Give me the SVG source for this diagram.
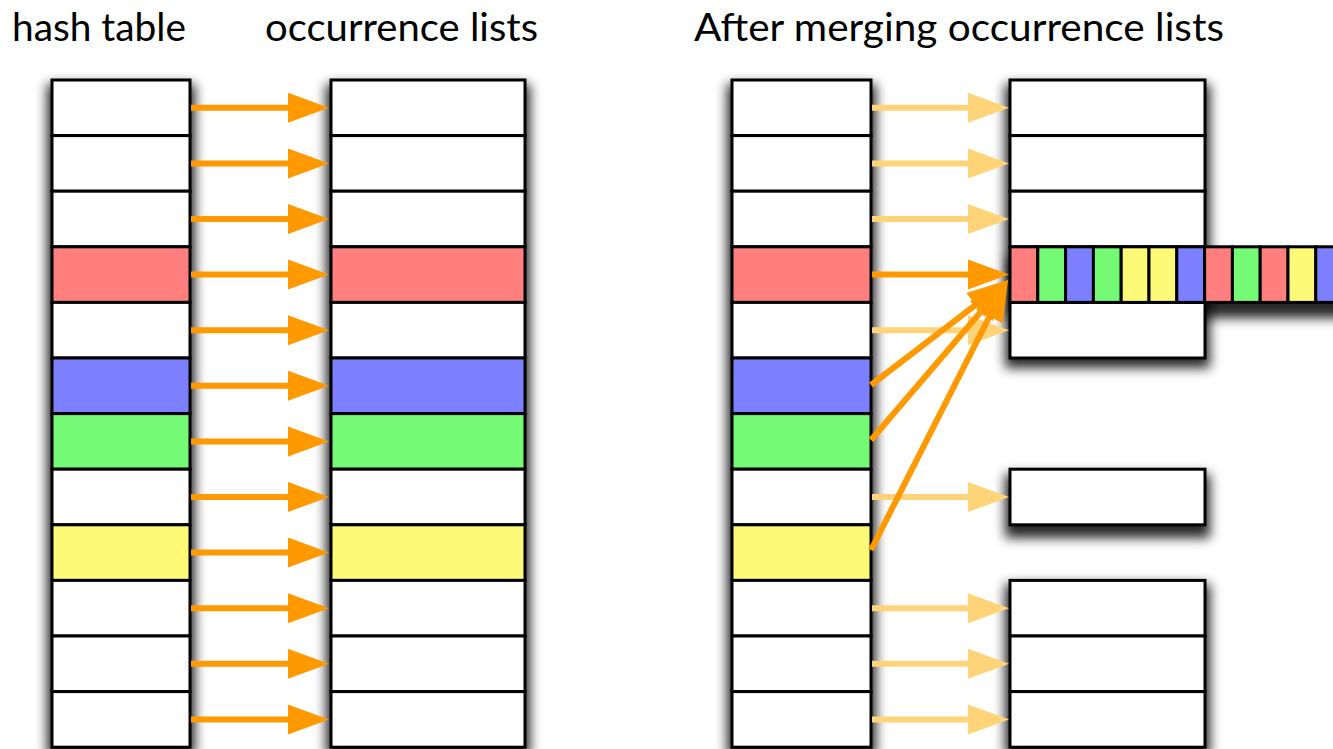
<svg xmlns="http://www.w3.org/2000/svg" width="1333" height="749" viewBox="0 0 1333 749">
<style>
.t{font-family:"Lato","Liberation Sans",sans-serif;font-size:38px;fill:#000}
.c{stroke:#000;stroke-width:3}
.w{fill:#fff}.r{fill:#ff7f7f}.g{fill:#74fa74}.b{fill:#7d80fe}.y{fill:#fefa78}
.d{stroke:#ff9900;stroke-width:6;fill:none;marker-end:url(#ah)}
.l{stroke:#ffd479;stroke-width:6;fill:none;marker-end:url(#al)}
.s{fill:#000;fill-opacity:0.85;filter:url(#blur)}
</style>
<defs>
<filter id="blur" x="-0.5" y="-0.5" width="2" height="2"><feGaussianBlur stdDeviation="6"/></filter>
<marker id="ah" markerUnits="userSpaceOnUse" markerWidth="42" markerHeight="32" refX="20" refY="16" orient="auto" viewBox="0 0 42 32"><path d="M0,1 L41,16 L0,31 z" fill="#ff9900"/></marker>
<marker id="al" markerUnits="userSpaceOnUse" markerWidth="42" markerHeight="32" refX="20" refY="16" orient="auto" viewBox="0 0 42 32"><path d="M0,1 L41,16 L0,31 z" fill="#ffd479"/></marker>
</defs>
<rect width="1333" height="749" fill="#fff"/>
<g id="titles">
<text class="t" x="12" y="41" textLength="174" lengthAdjust="spacingAndGlyphs">hash table</text>
<text class="t" x="265" y="41" textLength="273" lengthAdjust="spacingAndGlyphs">occurrence lists</text>
<text class="t" x="694" y="41" textLength="530" lengthAdjust="spacingAndGlyphs">After merging occurrence lists</text>
</g>
<g id="shadows">
<rect class="s" x="47" y="84" width="148" height="672"/>
<rect class="s" x="326" y="84" width="204" height="672"/>
<rect class="s" x="727" y="84" width="149" height="672"/>
<rect class="s" x="1005" y="84" width="205" height="284"/>
<rect class="s" x="1008" y="256" width="340" height="62"/>
<rect class="s" x="1005" y="474" width="205" height="64"/>
<rect class="s" x="1005" y="584" width="205" height="172"/>
</g>
<g id="left-hash" class="c">
<rect class="w" x="52" y="80" width="138" height="55.6"/>
<rect class="w" x="52" y="135.6" width="138" height="55.6"/>
<rect class="w" x="52" y="191.2" width="138" height="55.6"/>
<rect class="r" x="52" y="246.8" width="138" height="55.6"/>
<rect class="w" x="52" y="302.4" width="138" height="55.6"/>
<rect class="b" x="52" y="358" width="138" height="55.6"/>
<rect class="g" x="52" y="413.6" width="138" height="55.6"/>
<rect class="w" x="52" y="469.2" width="138" height="55.6"/>
<rect class="y" x="52" y="524.8" width="138" height="55.6"/>
<rect class="w" x="52" y="580.4" width="138" height="55.6"/>
<rect class="w" x="52" y="636" width="138" height="55.6"/>
<rect class="w" x="52" y="691.6" width="138" height="55.6"/>
</g>
<g id="left-lists" class="c">
<rect class="w" x="331" y="80" width="194" height="55.6"/>
<rect class="w" x="331" y="135.6" width="194" height="55.6"/>
<rect class="w" x="331" y="191.2" width="194" height="55.6"/>
<rect class="r" x="331" y="246.8" width="194" height="55.6"/>
<rect class="w" x="331" y="302.4" width="194" height="55.6"/>
<rect class="b" x="331" y="358" width="194" height="55.6"/>
<rect class="g" x="331" y="413.6" width="194" height="55.6"/>
<rect class="w" x="331" y="469.2" width="194" height="55.6"/>
<rect class="y" x="331" y="524.8" width="194" height="55.6"/>
<rect class="w" x="331" y="580.4" width="194" height="55.6"/>
<rect class="w" x="331" y="636" width="194" height="55.6"/>
<rect class="w" x="331" y="691.6" width="194" height="55.6"/>
</g>
<g id="right-hash" class="c">
<rect class="w" x="732" y="80" width="139" height="55.6"/>
<rect class="w" x="732" y="135.6" width="139" height="55.6"/>
<rect class="w" x="732" y="191.2" width="139" height="55.6"/>
<rect class="r" x="732" y="246.8" width="139" height="55.6"/>
<rect class="w" x="732" y="302.4" width="139" height="55.6"/>
<rect class="b" x="732" y="358" width="139" height="55.6"/>
<rect class="g" x="732" y="413.6" width="139" height="55.6"/>
<rect class="w" x="732" y="469.2" width="139" height="55.6"/>
<rect class="y" x="732" y="524.8" width="139" height="55.6"/>
<rect class="w" x="732" y="580.4" width="139" height="55.6"/>
<rect class="w" x="732" y="636" width="139" height="55.6"/>
<rect class="w" x="732" y="691.6" width="139" height="55.6"/>
</g>
<g id="right-lists" class="c">
<rect class="w" x="1010" y="80" width="195" height="55.6"/>
<rect class="w" x="1010" y="135.6" width="195" height="55.6"/>
<rect class="w" x="1010" y="191.2" width="195" height="55.6"/>
<rect class="w" x="1010" y="302.4" width="195" height="55.6"/>
<rect class="w" x="1010" y="469.2" width="195" height="55.6"/>
<rect class="w" x="1010" y="580.4" width="195" height="55.6"/>
<rect class="w" x="1010" y="636" width="195" height="55.6"/>
<rect class="w" x="1010" y="691.6" width="195" height="55.6"/>
</g>
<g id="merged-strip" class="c">
<rect class="r" x="1010" y="246.8" width="27.8" height="55.6"/>
<rect class="g" x="1037.8" y="246.8" width="27.8" height="55.6"/>
<rect class="b" x="1065.6" y="246.8" width="27.8" height="55.6"/>
<rect class="g" x="1093.4" y="246.8" width="27.8" height="55.6"/>
<rect class="y" x="1121.2" y="246.8" width="27.8" height="55.6"/>
<rect class="y" x="1149" y="246.8" width="27.8" height="55.6"/>
<rect class="b" x="1176.8" y="246.8" width="27.8" height="55.6"/>
<rect class="r" x="1204.6" y="246.8" width="27.8" height="55.6"/>
<rect class="g" x="1232.4" y="246.8" width="27.8" height="55.6"/>
<rect class="r" x="1260.2" y="246.8" width="27.8" height="55.6"/>
<rect class="y" x="1288" y="246.8" width="27.8" height="55.6"/>
<rect class="b" x="1315.8" y="246.8" width="27.8" height="55.6"/>
</g>
<g id="connectors">
<line class="d" x1="191" y1="107.8" x2="308" y2="107.8"/>
<line class="d" x1="191" y1="163.4" x2="308" y2="163.4"/>
<line class="d" x1="191" y1="219" x2="308" y2="219"/>
<line class="d" x1="191" y1="274.6" x2="308" y2="274.6"/>
<line class="d" x1="191" y1="330.2" x2="308" y2="330.2"/>
<line class="d" x1="191" y1="385.8" x2="308" y2="385.8"/>
<line class="d" x1="191" y1="441.4" x2="308" y2="441.4"/>
<line class="d" x1="191" y1="497" x2="308" y2="497"/>
<line class="d" x1="191" y1="552.6" x2="308" y2="552.6"/>
<line class="d" x1="191" y1="608.2" x2="308" y2="608.2"/>
<line class="d" x1="191" y1="663.8" x2="308" y2="663.8"/>
<line class="d" x1="191" y1="719.4" x2="308" y2="719.4"/>
<line class="l" x1="872" y1="107.8" x2="988" y2="107.8"/>
<line class="l" x1="872" y1="163.4" x2="988" y2="163.4"/>
<line class="l" x1="872" y1="219" x2="988" y2="219"/>
<line class="l" x1="872" y1="330.2" x2="988" y2="330.2"/>
<line class="l" x1="872" y1="497" x2="988" y2="497"/>
<line class="l" x1="872" y1="608.2" x2="988" y2="608.2"/>
<line class="l" x1="872" y1="663.8" x2="988" y2="663.8"/>
<line class="l" x1="872" y1="719.4" x2="988" y2="719.4"/>
<line class="d" x1="872" y1="274.6" x2="988" y2="274.6"/>
<line class="d" x1="871" y1="385" x2="991.3" y2="292.8"/>
<line class="d" x1="871" y1="440" x2="994.3" y2="296"/>
<line class="d" x1="871" y1="550" x2="998.5" y2="298.7"/>
</g>
</svg>
